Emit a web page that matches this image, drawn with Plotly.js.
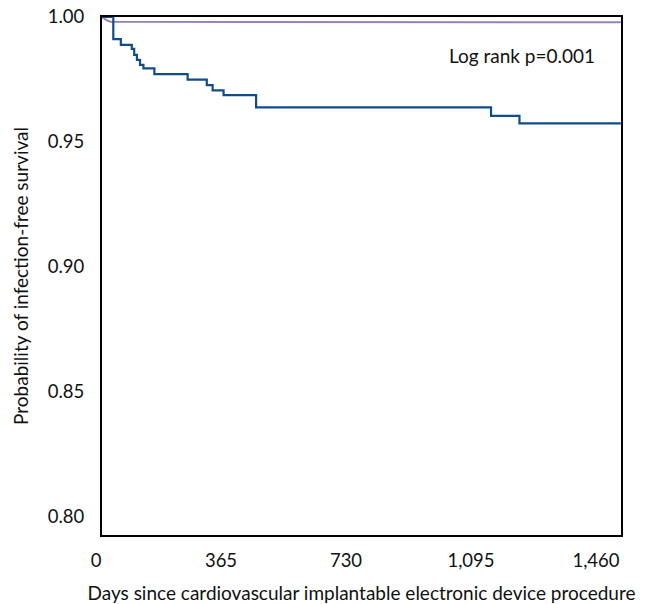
<!DOCTYPE html>
<html>
<head>
<meta charset="utf-8">
<script src="https://cdn.plot.ly/plotly-3.0.1.min.js"></script>
<style>html,body{margin:0;padding:0;background:#fff;}#chart{width:645px;height:604px;}</style>
</head>
<body>
<div id="chart"></div>
<script>
// Blue group (step curve)
const blueDays = [0, 24, 33, 55, 87, 94, 102, 111, 121, 153, 250, 306, 323, 355, 450, 1136, 1219, 1515];
const blueSurv = [1.0, 1.0, 0.9911, 0.9888, 0.9872, 0.9848, 0.9828, 0.9808, 0.9794, 0.9771, 0.9749, 0.9727, 0.9706, 0.9687, 0.9638, 0.9604, 0.9574, 0.9574];
// Purple group
const purpleDays = [0, 12, 24, 1515];
const purpleSurv = [1.0, 0.9988, 0.9981, 0.9979];
const xTicks = [0, 365, 730, 1095, 1460];
const xTickText = ["0", "365", "730", "1,095", "1,460"];
const yTicks = [0.80, 0.85, 0.90, 0.95, 1.00];
const yTickText = ["0.80", "0.85", "0.90", "0.95", "1.00"];
const annotationText = "Log rank p=0.001";

const fontFam = "Lato, 'Open Sans', sans-serif";

const traces = [
  {x: purpleDays, y: purpleSurv, mode: 'lines', line: {color: '#9a80bb', width: 2, shape: 'linear'}, hoverinfo: 'skip', cliponaxis: false},
  {x: blueDays, y: blueSurv, mode: 'lines', line: {color: '#0f4c8a', width: 2.2, shape: 'hv'}, hoverinfo: 'skip', cliponaxis: false}
];

const layout = {
  width: 645, height: 604,
  margin: {l: 102, r: 24, t: 17, b: 69},
  paper_bgcolor: '#fff', plot_bgcolor: '#fff',
  showlegend: false,
  font: {family: fontFam, size: 18, color: '#111'},
  xaxis: {
    range: [0, 1515.5], tickvals: xTicks, ticktext: xTickText,
    showgrid: false, zeroline: false, showline: true, mirror: true,
    linecolor: '#000', linewidth: 2, ticks: '', ticklabelstandoff: 8, ticklabelshift: -6,
    tickfont: {family: fontFam, size: 18.5, color: '#111'},
    title: {text: 'Days since cardiovascular implantable electronic device procedure', font: {family: fontFam, size: 19, color: '#111'}, standoff: 18}
  },
  yaxis: {
    range: [0.7924, 1.0], tickvals: yTicks, ticktext: yTickText,
    showgrid: false, zeroline: false, showline: true, mirror: true,
    linecolor: '#000', linewidth: 2, ticks: '', ticklabelstandoff: 12,
    tickfont: {family: fontFam, size: 18.5, color: '#111'},
    title: {text: 'Probability of infection-free survival', font: {family: fontFam, size: 19, color: '#111'}, standoff: 14}
  },
  annotations: [{
    text: annotationText, xref: 'paper', yref: 'paper', x: 0.953, y: 0.925,
    xanchor: 'right', yanchor: 'middle', showarrow: false,
    font: {family: fontFam, size: 19, color: '#111'}
  }]
};

Plotly.newPlot('chart', traces, layout, {staticPlot: true, displayModeBar: false});
</script>
</body>
</html>
